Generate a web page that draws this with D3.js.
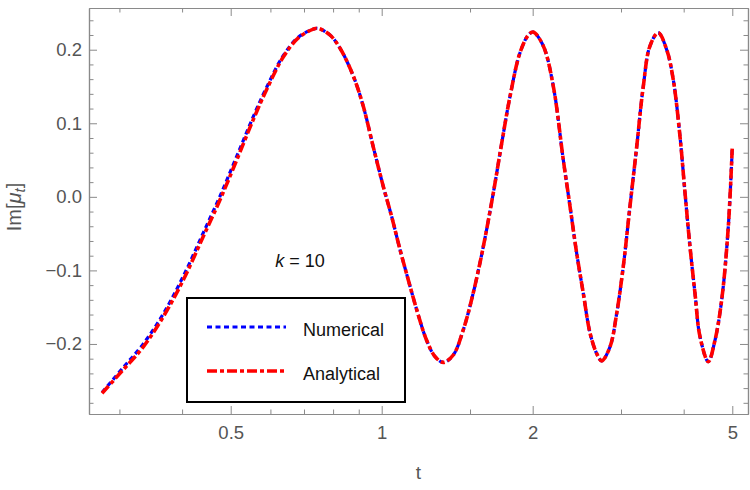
<!DOCTYPE html>
<html>
<head>
<meta charset="utf-8">
<script src="https://cdn.jsdelivr.net/npm/d3@7"></script>
<style>
  body { margin: 0; background: #fff; }
  text { font-family: "Liberation Sans", Arial, Helvetica, sans-serif; }
</style>
</head>
<body>
<div id="chart"></div>
<script>
// values
const tValues = [0.277, 0.3053, 0.3347, 0.3669, 0.4022, 0.4408, 0.4761, 0.514, 0.5546, 0.5898,
  0.6364, 0.682, 0.7306, 0.7466, 0.7886, 0.826, 0.878, 0.919,
  0.962, 1.0074, 1.047, 1.088, 1.13, 1.175, 1.229, 1.277, 1.327, 1.389,
  1.454, 1.522, 1.594, 1.669, 1.735, 1.803, 1.887, 1.961, 2.005, 2.100,
  2.199, 2.302, 2.374, 2.448, 2.523, 2.602, 2.683, 2.746, 2.852, 2.942,
  3.031, 3.126, 3.224, 3.323, 3.426, 3.559, 3.700, 3.814, 3.933, 4.025,
  4.118, 4.213, 4.311, 4.478, 4.618, 4.763, 4.910, 5.0]

const analytical = [-0.267, -0.235, -0.204, -0.163, -0.113, -0.054, -0.004, 0.050, 0.105, 0.146,
  0.190, 0.216, 0.228, 0.229, 0.220, 0.202, 0.164, 0.123,
  0.068, 0.014, -0.027, -0.072, -0.113, -0.154, -0.195, -0.217, -0.225, -0.215,
  -0.181, -0.131, -0.068, 0.005, 0.073, 0.137, 0.196, 0.220, 0.224, 0.205,
  0.150, 0.050, -0.013, -0.077, -0.131, -0.185, -0.213, -0.223, -0.204, -0.158,
  -0.095, -0.013, 0.068, 0.150, 0.205, 0.223, 0.200, 0.159, 0.082, 0.005,
  -0.068, -0.131, -0.190, -0.224, -0.195, -0.140, -0.040, 0.068]

const numerical = [-0.266, -0.232, -0.200, -0.159, -0.108, -0.049, 0.001, 0.055, 0.109, 0.149,
  0.192, 0.217, 0.228, 0.229, 0.220, 0.202, 0.164, 0.123,
  0.068, 0.014, -0.027, -0.072, -0.113, -0.154, -0.195, -0.217, -0.225, -0.215,
  -0.181, -0.131, -0.068, 0.005, 0.073, 0.137, 0.196, 0.220, 0.224, 0.205,
  0.150, 0.050, -0.013, -0.077, -0.131, -0.185, -0.213, -0.223, -0.204, -0.158,
  -0.095, -0.013, 0.068, 0.150, 0.205, 0.223, 0.200, 0.159, 0.082, 0.005,
  -0.068, -0.131, -0.190, -0.224, -0.195, -0.140, -0.040, 0.068]

const xMajor = [0.5, 1, 2, 5]
const xMinor = [0.3, 0.4, 0.6, 0.7, 0.8, 0.9, 1.5, 3, 4]
const yMajor = [-0.2, -0.1, 0, 0.1, 0.2]
const yMinor = d3.range(-0.28, 0.25, 0.02).map(v => +v.toFixed(2))
  .filter(v => yMajor.indexOf(v) < 0)

const seriesNames = ["Numerical", "Analytical"]

let width = 750,
  height = 490

let margin = { top: 8, right: 2, bottom: 76, left: 89 }
let w = width - margin.left - margin.right,
  h = height - margin.top - margin.bottom

let x = d3.scaleLog().domain([0.2609, 5.374]).range([0, w]),
  y = d3.scaleLinear().domain([-0.2952, 0.2567]).range([h, 0])

const svg = d3.select("#chart").append("svg")
  .attr("width", width)
  .attr("height", height)

const g = svg.append("g")
  .attr("transform", "translate(" + margin.left + "," + margin.top + ")")

const gray = "#8a8a8a",
  labelGray = "#555"

// frame axes, ticks pointing inward
function styleAxis(sel) {
  sel.select(".domain").attr("stroke", gray).attr("stroke-width", 1.2)
  sel.selectAll(".tick line").attr("stroke", gray)
  sel.selectAll(".tick text").attr("fill", labelGray)
    .style("font-size", "18.5px")
}

let xAxisB = d3.axisBottom(x).tickValues(xMajor).tickSizeInner(-8).tickSizeOuter(0)
  .tickPadding(12).tickFormat(d3.format("")),
  xAxisBm = d3.axisBottom(x).tickValues(xMinor).tickSizeInner(-4.5).tickSizeOuter(0).tickFormat(""),
  xAxisT = d3.axisTop(x).tickValues(xMajor).tickSizeInner(-8).tickSizeOuter(0).tickFormat(""),
  xAxisTm = d3.axisTop(x).tickValues(xMinor).tickSizeInner(-4.5).tickSizeOuter(0).tickFormat(""),
  yAxisL = d3.axisLeft(y).tickValues(yMajor).tickSizeInner(-8).tickSizeOuter(0)
    .tickPadding(7).tickFormat(d3.format(".1f")),
  yAxisLm = d3.axisLeft(y).tickValues(yMinor).tickSizeInner(-4.5).tickSizeOuter(0).tickFormat(""),
  yAxisR = d3.axisRight(y).tickValues(yMajor).tickSizeInner(-8).tickSizeOuter(0).tickFormat(""),
  yAxisRm = d3.axisRight(y).tickValues(yMinor).tickSizeInner(-4.5).tickSizeOuter(0).tickFormat("")

g.append("g").attr("transform", "translate(0," + h + ")").call(xAxisBm).call(styleAxis)
g.append("g").attr("transform", "translate(0," + h + ")").call(xAxisB).call(styleAxis)
g.append("g").call(xAxisTm).call(styleAxis)
g.append("g").call(xAxisT).call(styleAxis)
g.append("g").call(yAxisLm).call(styleAxis)
g.append("g").call(yAxisL).call(styleAxis)
g.append("g").attr("transform", "translate(" + w + ",0)").call(yAxisRm).call(styleAxis)
g.append("g").attr("transform", "translate(" + w + ",0)").call(yAxisR).call(styleAxis)

// curves
const line = d3.line()
  .x(d => x(d[0]))
  .y(d => y(d[1]))
  .curve(d3.curveCatmullRom.alpha(0.5))

const numData = tValues.map((t, i) => [t, numerical[i]]),
  anaData = tValues.map((t, i) => [t, analytical[i]])

const blueStyle = { stroke: "#0000ff", dash: "5,3.5", width: 3.2 },
  redStyle = { stroke: "#ff0000", dash: "10,3,4,3", width: 3.6 }

g.append("path").datum(numData)
  .attr("fill", "none")
  .attr("stroke", blueStyle.stroke)
  .attr("stroke-width", blueStyle.width)
  .attr("stroke-dasharray", blueStyle.dash)
  .attr("d", line)

g.append("path").datum(anaData)
  .attr("fill", "none")
  .attr("stroke", redStyle.stroke)
  .attr("stroke-width", redStyle.width)
  .attr("stroke-dasharray", redStyle.dash)
  .attr("d", line)

// annotation
svg.append("text")
  .attr("x", 300).attr("y", 267)
  .attr("text-anchor", "middle")
  .style("font-size", "18px")
  .attr("fill", "#111")
  .html('<tspan font-style="italic">k</tspan> = 10')

// legend
const legend = svg.append("g").attr("transform", "translate(187,298)")
legend.append("rect")
  .attr("width", 218).attr("height", 104)
  .attr("fill", "#fff").attr("stroke", "#000").attr("stroke-width", 2)

const legendStyles = [blueStyle, redStyle]
seriesNames.forEach((name, i) => {
  const ly = 29 + i * 44
  legend.append("line")
    .attr("x1", 20).attr("x2", 99).attr("y1", ly).attr("y2", ly)
    .attr("stroke", legendStyles[i].stroke)
    .attr("stroke-width", legendStyles[i].width)
    .attr("stroke-dasharray", legendStyles[i].dash)
  legend.append("text")
    .attr("x", 116).attr("y", ly + 9)
    .style("font-size", "18px")
    .attr("fill", "#111")
    .text(name)
})

// axis titles
svg.append("text")
  .attr("x", margin.left + w / 2).attr("y", 479)
  .attr("text-anchor", "middle")
  .attr("fill", labelGray)
  .style("font-size", "19px")
  .text("t")

const yTitle = svg.append("text")
  .attr("transform", "translate(21,207) rotate(-90)")
  .attr("text-anchor", "middle")
  .attr("fill", labelGray)
  .style("font-size", "20px")
yTitle.append("tspan").text("Im[")
yTitle.append("tspan").attr("font-style", "italic").text("μ")
yTitle.append("tspan").attr("font-style", "italic").attr("dy", 4).style("font-size", "15px").text("t")
yTitle.append("tspan").attr("dy", -4).text("]")
</script>
</body>
</html>
